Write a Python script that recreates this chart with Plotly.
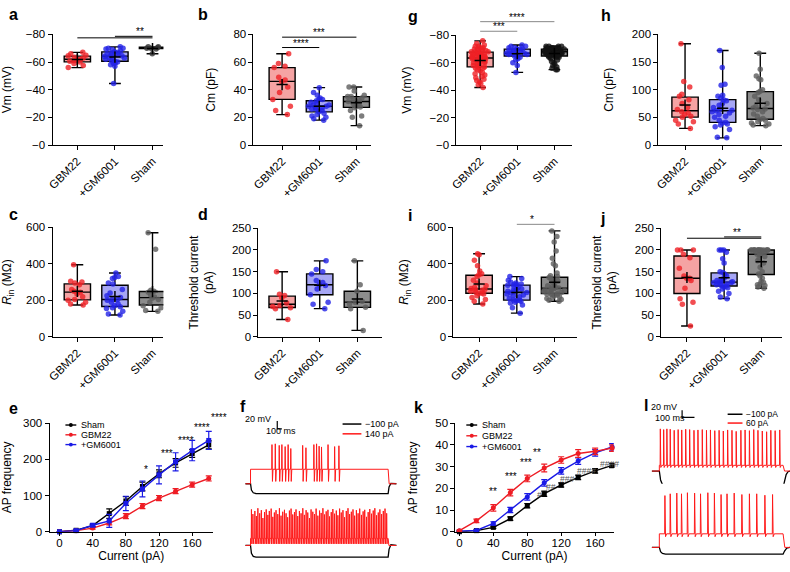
import numpy as np
import plotly.graph_objects as go

W, H = 790, 572
FONT = "Arial, 'Liberation Sans', Helvetica, sans-serif"

GROUPS = ["GBM22", "+GM6001", "Sham"]

# ---------------- box-plot data ----------------
a_gbm22 = [-67, -66, -65, -64.5, -63.5, -63, -62, -62, -61, -60.5, -60, -59, -57.5, -56]
a_gm6001 = [-71, -70, -70, -69.5, -69, -68, -67.5, -67, -66.5, -66, -65.5, -65, -64.5, -64,
            -63.5, -63, -62.5, -62, -61, -60.5, -60, -59.5, -59, -58, -57, -44.5]
a_sham = [-71, -71, -70.5, -70, -70, -69.5, -66]

b_gbm22 = [22, 25, 28, 33, 38, 42, 46, 47, 49, 56, 57, 59, 66]
b_gm6001 = [18, 19, 20, 21, 22, 23, 24, 25, 26, 26, 27, 27, 28, 28, 29, 29, 30, 31, 32, 33, 33,
            34, 36, 38, 41.5]
b_sham = [14, 20, 21, 25, 27, 27.5, 28, 29, 30, 31.5, 32, 33, 34, 35, 35, 36, 39, 42, 42]

g_gbm22 = [-76, -74, -73, -72, -72, -71, -71, -70, -70, -70, -69, -69, -69, -68, -68, -68, -67,
           -67, -67, -67, -66, -66, -66, -65, -65, -65, -65, -64, -64, -64, -64, -63, -63, -63,
           -62, -62, -62, -61, -61, -60, -60, -59, -59, -58, -58, -57, -57, -56, -56, -55, -54,
           -53, -52, -51, -50, -49, -48, -47, -46, -45, -44, -42]
g_gm6001 = [-73, -72, -72, -71, -71, -70, -70, -70, -69, -69, -68, -68, -67, -67, -67, -66, -66,
            -66, -65, -65, -64, -63, -62, -60, -58, -53]
g_sham = [-72, -72, -72, -72, -71, -71, -71, -71, -71, -71, -70, -70, -70, -70, -70, -70, -70,
          -69, -69, -69, -69, -69, -69, -69, -69, -68, -68, -68, -68, -68, -68, -68, -68, -67,
          -67, -67, -67, -67, -67, -67, -67, -66, -66, -66, -66, -66, -66, -65, -65, -65, -65,
          -65, -64, -64, -64, -63, -62, -61, -60, -59, -58, -57, -56, -55, -55]

h_gbm22 = [30, 38, 42, 45, 50, 52, 55, 58, 60, 64, 68, 75, 82, 88, 92, 105, 115, 183]
h_gm6001 = [13, 14, 28, 33, 36, 38, 40, 41, 45, 50, 52, 55, 58, 60, 62, 63, 65, 68, 72, 75, 80,
            82, 85, 88, 90, 108, 110, 140, 171]
h_sham = [35, 36, 38, 40, 42, 45, 46, 48, 52, 56, 60, 64, 65, 67, 70, 75, 82, 88, 95, 97, 100,
          118, 120, 125, 137, 166]

c_gbm22 = [175, 180, 190, 200, 205, 220, 235, 245, 250, 260, 285, 295, 300, 305, 395]
c_gm6001 = [120, 125, 140, 155, 160, 165, 170, 180, 190, 200, 205, 205, 215, 225, 240, 260, 290,
            295, 320, 325, 330, 350]
c_sham = [140, 145, 160, 170, 190, 205, 212, 218, 230, 245, 250, 255, 480, 570]

d_gbm22 = [40, 65, 67, 70, 72, 78, 90, 95, 98, 150]
d_gm6001 = [65, 75, 80, 97, 110, 118, 120, 125, 130, 145, 150, 155, 175]
d_sham = [15, 65, 68, 76, 80, 82, 105, 120, 175]

i_gbm22 = [180, 195, 205, 215, 225, 235, 238, 240, 245, 250, 255, 258, 260, 265, 270, 280, 295,
           310, 330, 340, 345, 360, 390, 420, 450, 455]
i_gm6001 = [130, 160, 175, 185, 190, 195, 198, 200, 202, 210, 220, 225, 230, 235, 240, 243, 247,
            250, 255, 258, 262, 270, 278, 283, 285, 288, 290, 295, 300, 310, 320, 330]
i_sham = [195, 200, 205, 210, 215, 220, 225, 230, 232, 235, 238, 240, 245, 248, 250, 255, 258,
          260, 263, 265, 268, 270, 275, 280, 290, 300, 305, 310, 320, 325, 330, 335, 350, 390,
          400, 430, 470, 520, 550, 580]

j_gbm22 = [25, 75, 80, 88, 112, 130, 135, 135, 140, 158, 182, 190, 200, 200, 200]
j_gm6001 = [88, 92, 100, 105, 110, 113, 115, 117, 118, 120, 122, 123, 125, 125, 125, 127, 128,
            130, 132, 135, 140, 145, 148, 150, 170, 180, 195, 200, 200, 200]
j_sham = [112, 115, 118, 120, 122, 125, 128, 135, 140, 145, 150, 160, 170, 175, 180, 185, 188,
          190, 190, 192, 195, 198, 200, 200, 200, 200, 200, 200, 200, 200, 200, 200, 200, 200,
          200, 200]

# ---------------- AP frequency data ----------------
CURRENT = [0, 20, 40, 60, 80, 100, 120, 140, 160, 180]
e_sham = [0, 4, 17, 50, 85, 125, 160, 190, 216, 240]
e_sham_err = [0, 2, 3, 13, 12, 12, 11, 12, 11, 11]
e_gbm22 = [0, 3, 10, 24, 43, 71, 93, 112, 130, 147]
e_gbm22_err = [0, 2, 3, 5, 7, 7, 7, 7, 7, 7]
e_gm6001 = [0, 3, 18, 30, 78, 118, 157, 193, 224, 252]
e_gm6001_err = [0, 2, 4, 18, 20, 22, 25, 25, 28, 25]

k_sham = [0, 0.5, 2, 6, 12, 17.5, 21.5, 25, 28, 30.5]
k_sham_err = [0, 0.3, 0.5, 0.8, 1, 1.2, 1, 1, 1, 1]
k_gbm22 = [0.5, 5, 11, 18, 24.5, 29.3, 33, 36, 37, 38.5]
k_gbm22_err = [0.3, 0.8, 1.5, 1.5, 1.5, 1.8, 1.5, 1.8, 1.5, 1.5]
k_gm6001 = [0.3, 0.6, 3.8, 10, 16, 22.5, 28, 32.5, 36.3, 39]
k_gm6001_err = [0.2, 0.3, 0.8, 1.2, 1.5, 1.5, 1.5, 1.5, 1.5, 1.5]

# ---------------- example traces (ms, mV) ----------------
f1_spike_t = [468, 540, 626, 684, 755, 820, 878, 1137, 1208, 1381, 1440, 1496, 1548, 1690, 1834, 1927]
f1_spike_v = [30, 32, 28, 30, 25, 30, 20, 28, 22, 30, 32, 26, 24, 30, 25, 27]
f1_black_t = [-110, 0, 20, 60, 120, 3000, 3020, 3060, 3180]
f1_black_v = [-70, -70, -86, -93, -95, -95, -78, -69, -70]

f2_spike_t = [20, 52, 95, 128, 160, 200, 236, 270, 305, 342, 378, 410, 450, 486, 520, 556, 595,
              630, 665, 702, 740, 775, 810, 848, 884, 920, 958, 992, 1030, 1066, 1102, 1140, 1175,
              1212, 1248, 1285, 1320, 1358, 1395, 1430, 1468, 1505, 1540, 1578, 1612, 1650, 1688,
              1722, 1760, 1795, 1832, 1870, 1905, 1942, 1978, 2015, 2050, 2088, 2125, 2160, 2198,
              2234, 2270, 2308, 2345, 2380, 2418, 2455, 2490, 2528, 2565, 2600, 2638, 2675, 2710,
              2748, 2785, 2820, 2858, 2895, 2932, 2968]
f2_spike_v = [22, 10, 18, 5, 25, 12, 20, 0, 15, 22, 8, 18, 24, 3, 14, 20, 10, 25, 6, 16, 21, 12,
              2, 19, 24, 9, 15, 22, 5, 18, 12, 25, 8, 20, 14, 0, 22, 16, 10, 24, 6, 19, 13, 25, 9,
              17, 21, 4, 15, 23, 11, 19, 7, 24, 14, 20, 2, 18, 25, 10, 16, 22, 6, 20, 12, 24, 8,
              17, 21, 3, 15, 23, 11, 19, 25, 7, 14, 22, 10, 18, 24, 12]
f2_black_t = [-110, 0, 20, 60, 120, 3000, 3020, 3060, 3180]
f2_black_v = [-70, -70, -90, -98, -100, -100, -80, -68, -70]

l1_spike_t = [8, 35, 61, 88, 120, 152, 181, 213, 245, 280, 312, 347, 381, 413, 448, 483, 517, 552,
              587, 621, 659, 693, 728, 763, 797, 832, 867, 901, 936, 973]
l1_spike_v = [48, 46, 48, 47, 44, 46, 45, 47, 46, 44, 45, 46, 44, 45, 43, 44, 42, 45, 44, 41, 44,
              45, 43, 46, 44, 42, 40, 44, 43, 45]
l1_black_t = [-60, 0, 10, 25, 45, 70, 1000, 1010, 1025, 1040, 1056]
l1_black_v = [-70, -70, -95, -108, -114, -116, -116, -100, -80, -72, -70]

l2_spike_t = [45, 88, 141, 179, 227, 285, 333, 392, 445, 499, 547, 605, 667, 728, 787, 853, 915]
l2_spike_v = [75, 80, 82, 80, 83, 82, 80, 83, 82, 78, 80, 82, 78, 80, 80, 76, 78]
l2_black_t = [-60, 0, 10, 25, 50, 1000, 1012, 1030, 1056]
l2_black_v = [-70, -70, -82, -87, -89, -89, -80, -72, -70]

# ---------------- styles ----------------
RED_FILL, BLUE_FILL, GRAY_FILL = "#f5a3a3", "#a6a6f5", "#8c8c8c"
RED_PT, BLUE_PT, GRAY_PT = "#ef2026", "#2222e6", "#5c5c5c"
TRACE_RED = "#ff1a1a"

fig = go.Figure()
layout = dict(width=W, height=H, margin=dict(l=0, r=0, t=0, b=0),
              paper_bgcolor="white", plot_bgcolor="white", showlegend=False,
              boxmode="overlay", font=dict(family=FONT, size=11.5, color="black"))
annotations, shapes = [], []
panels = {}

AX = dict(showline=True, linecolor="black", linewidth=1, ticks="outside", ticklen=4,
          tickwidth=1, tickcolor="black", showgrid=False, zeroline=False,
          tickfont=dict(size=11.5))


def add_panel(name, xpx, ypx, xr, yr):
    n = len(panels) + 1
    sfx = "" if n == 1 else str(n)
    p = dict(xpx=xpx, ypx=ypx, xr=xr, yr=yr, xa="x" + sfx, ya="y" + sfx,
             xkey="xaxis" + sfx, ykey="yaxis" + sfx)
    panels[name] = p
    layout[p["xkey"]] = dict(domain=[xpx[0] / W, xpx[1] / W], range=xr, anchor=p["ya"])
    layout[p["ykey"]] = dict(domain=[1 - ypx[1] / H, 1 - ypx[0] / H], range=yr, anchor=p["xa"])
    return p


def to_paper(p, x, y):
    xr, yr = p["xr"], p["yr"]
    fx = (x - xr[0]) / (xr[1] - xr[0])
    fy = (y - yr[0]) / (yr[1] - yr[0])
    px = p["xpx"][0] + fx * (p["xpx"][1] - p["xpx"][0])
    py = p["ypx"][1] - fy * (p["ypx"][1] - p["ypx"][0])
    return px / W, 1 - py / H


def px_paper(px, py):
    return px / W, 1 - py / H


def box_panel(p, datasets, pt_colors, fills, ytitle, ticks, ticktext=None):
    layout[p["xkey"]].update(AX, type="category", categoryorder="array",
                             categoryarray=GROUPS, tickangle=-45)
    yax = dict(AX, tickvals=ticks, title=dict(text=ytitle, font=dict(size=12)))
    if ticktext:
        yax["ticktext"] = ticktext
    layout[p["ykey"]].update(yax)
    for grp, vals, pc, fc in zip(GROUPS, datasets, pt_colors, fills):
        v = np.asarray(vals, dtype=float)
        q1, med, q3 = np.percentile(v, [25, 50, 75])
        fig.add_trace(go.Box(x=[grp], q1=[q1], median=[med], q3=[q3],
                             lowerfence=[v.min()], upperfence=[v.max()],
                             fillcolor=fc, line=dict(color="black", width=1.4),
                             whiskerwidth=0.45, width=0.7, boxpoints=False,
                             xaxis=p["xa"], yaxis=p["ya"], hoverinfo="skip"))
        fig.add_trace(go.Box(x=[grp] * len(v), y=v, boxpoints="all", jitter=0.85, pointpos=0,
                             fillcolor="rgba(0,0,0,0)",
                             line=dict(color="rgba(0,0,0,0)", width=0),
                             whiskerwidth=0, width=0.7,
                             marker=dict(color=pc, size=5.5, opacity=0.8),
                             xaxis=p["xa"], yaxis=p["ya"]))
        fig.add_trace(go.Scatter(x=[grp], y=[v.mean()], mode="markers",
                                 marker=dict(symbol="cross-thin", size=8,
                                             line=dict(color="black", width=1.5)),
                                 xaxis=p["xa"], yaxis=p["ya"]))


def sig(p, x0, x1, y, text, color="black"):
    X0, Y = to_paper(p, x0, y)
    X1, _ = to_paper(p, x1, y)
    shapes.append(dict(type="line", xref="paper", yref="paper", x0=X0, x1=X1, y0=Y, y1=Y,
                       line=dict(color=color, width=1)))
    if text:
        annotations.append(dict(xref="paper", yref="paper", x=(X0 + X1) / 2, y=Y, text=text,
                                showarrow=False, yanchor="bottom", yshift=-3,
                                font=dict(size=10, color="black")))


fills3 = [RED_FILL, BLUE_FILL, GRAY_FILL]
VM_TICKS = [0, -20, -40, -60, -80]
VM_TEXT = ["\u22120", "\u221220", "\u221240", "\u221260", "\u221280"]

# ---------- row 1 ----------
pa = add_panel("a", (45, 157), (29, 142), [-0.66, 2.29], [0, -80])
box_panel(pa, [a_gbm22, a_gm6001, a_sham], [RED_PT, BLUE_PT, "#333333"], fills3,
          "Vm (mV)", VM_TICKS, VM_TEXT)
sig(pa, 0, 2, -77.5, "")
sig(pa, 1, 2, -78.6, "**")

pb = add_panel("b", (248, 367), (29, 142), [-0.77, 2.4], [0, 80])
box_panel(pb, [b_gbm22, b_gm6001, b_sham], [RED_PT, BLUE_PT, GRAY_PT], fills3,
          "Cm (pF)", [0, 20, 40, 60, 80])
sig(pb, 0, 2, 78, "***")
sig(pb, 0, 1, 70.5, "****")

pg = add_panel("g", (453, 570), (30, 142), [-0.64, 2.48], [0, -80])
box_panel(pg, [g_gbm22, g_gm6001, g_sham], [RED_PT, BLUE_PT, "#111111"], fills3,
          "Vm (mV)", VM_TICKS, VM_TEXT)
sig(pg, 0, 2, -90, "****", "#888888")
sig(pg, 0, 1, -83, "***", "#888888")

ph = add_panel("h", (657, 782), (29, 142), [-0.71, 2.58], [0, 200])
box_panel(ph, [h_gbm22, h_gm6001, h_sham], [RED_PT, BLUE_PT, GRAY_PT], fills3,
          "Cm (pF)", [0, 50, 100, 150, 200])

# ---------- row 2 ----------
RIN = "<i>R</i><sub>in</sub> (M\u03a9)"
THR = "Threshold current<br>(pA)"
pc = add_panel("c", (45, 157), (226, 338), [-0.66, 2.29], [0, 600])
box_panel(pc, [c_gbm22, c_gm6001, c_sham], [RED_PT, BLUE_PT, GRAY_PT], fills3,
          RIN, [0, 200, 400, 600])

pd_ = add_panel("d", (253, 378), (227, 338), [-0.63, 2.66], [0, 250])
box_panel(pd_, [d_gbm22, d_gm6001, d_sham], [RED_PT, BLUE_PT, GRAY_PT], fills3,
          THR, [0, 50, 100, 150, 200, 250])

pi = add_panel("i", (450, 575), (226, 338), [-0.68, 2.6], [0, 600])
box_panel(pi, [i_gbm22, i_gm6001, i_sham], [RED_PT, BLUE_PT, GRAY_PT], fills3,
          RIN, [0, 200, 400, 600])
sig(pi, 1, 2, 616, "*", "#888888")

pj = add_panel("j", (660, 782), (227, 338), [-0.69, 2.56], [0, 250])
box_panel(pj, [j_gbm22, j_gm6001, j_sham], [RED_PT, BLUE_PT, GRAY_PT], fills3,
          THR, [0, 50, 100, 150, 200, 250])
sig(pj, 0, 2, 227, "")
sig(pj, 1, 2, 230, "**")


# ---------- row 3: AP frequency ----------
def freq_panel(p, series, ytitle, yticks):
    layout[p["xkey"]].update(AX, tickvals=[0, 40, 80, 120, 160], ticklen=3,
                             ticklabelstandoff=-3,
                             title=dict(text="Current (pA)", font=dict(size=12), standoff=0))
    layout[p["ykey"]].update(AX, tickvals=yticks, title=dict(text=ytitle, font=dict(size=12)))
    for y, err, col, sym in series:
        fig.add_trace(go.Scatter(x=CURRENT, y=y, mode="lines+markers",
                                 line=dict(color=col, width=1.4),
                                 marker=dict(color=col, size=5, symbol=sym),
                                 error_y=dict(type="data", array=err, color=col,
                                              thickness=1.2, width=3),
                                 cliponaxis=False, xaxis=p["xa"], yaxis=p["ya"]))


def legend_box(x_px, y_px, items, gap):
    for idx, (label, col) in enumerate(items):
        yy = y_px + idx * gap
        x0, y0 = px_paper(x_px, yy)
        x1, _ = px_paper(x_px + 11, yy)
        shapes.append(dict(type="line", xref="paper", yref="paper", x0=x0, x1=x1, y0=y0, y1=y0,
                           line=dict(color=col, width=1.4)))
        cx0, cy0 = px_paper(x_px + 3.5, yy - 2)
        cx1, cy1 = px_paper(x_px + 7.5, yy + 2)
        shapes.append(dict(type="circle", xref="paper", yref="paper", x0=cx0, x1=cx1,
                           y0=cy1, y1=cy0, fillcolor=col, line=dict(color=col, width=0)))
        tx, ty = px_paper(x_px + 14, yy)
        annotations.append(dict(xref="paper", yref="paper", x=tx, y=ty, text=label,
                                showarrow=False, xanchor="left", yanchor="middle",
                                font=dict(size=9)))


pe = add_panel("e", (42, 207), (426, 537), [-12, 185], [0, 300])
freq_panel(pe, [(e_sham, e_sham_err, "black", "square"),
                (e_gbm22, e_gbm22_err, "#ee1c24", "circle"),
                (e_gm6001, e_gm6001_err, "#1a1ae6", "square")],
           "AP frequency", [0, 100, 200, 300])
legend_box(58, 428, [("Sham", "black"), ("GBM22", "#ee1c24"), ("+GM6001", "#1a1ae6")], 10)
for cx, cy, txt in [(100, 150, "*"), (120, 196, "***"), (140, 230, "****"),
                    (160, 268, "****"), (180, 296, "****")]:
    X, Y = to_paper(pe, cx, cy)
    annotations.append(dict(xref="paper", yref="paper", x=X, y=Y, text=txt, showarrow=False,
                            font=dict(size=10)))

pk = add_panel("k", (452, 612), (426, 537), [-4.7, 182], [0, 50])
freq_panel(pk, [(k_sham, k_sham_err, "black", "square"),
                (k_gm6001, k_gm6001_err, "#1a1ae6", "circle"),
                (k_gbm22, k_gbm22_err, "#ee1c24", "circle")],
           "AP frequency", [0, 10, 20, 30, 40, 50])
legend_box(463, 428, [("Sham", "black"), ("GBM22", "#ee1c24"), ("+GM6001", "#1a1ae6")], 11)
for cx, cy, txt in [(40, 15, "**"), (61, 22, "***"), (79, 28.3, "***"), (98, 33, "**")]:
    X, Y = to_paper(pk, cx, cy)
    annotations.append(dict(xref="paper", yref="paper", x=X, y=Y, text=txt, showarrow=False,
                            font=dict(size=10)))
for cx, cy, txt in [(100, 13.5, "#"), (116, 17.5, "##"), (138, 21, "###"), (163, 24.5, "####"),
                    (190, 28, "####")]:
    X, Y = to_paper(pk, cx, cy)
    annotations.append(dict(xref="paper", yref="paper", x=X, y=Y, text=txt, showarrow=False,
                            font=dict(size=8.5, color="#555555")))


# ---------- example traces ----------
def step_trace(t_pre, t_on, t_off, t_post, hold, plateau, sp_t, sp_v, trough, rise, fall, rec):
    t = [t_pre, t_on, t_on]
    v = [hold, hold, plateau]
    for ts, pk_ in zip(sp_t, sp_v):
        t += [ts - rise, ts, ts + fall, ts + rec]
        v += [plateau, pk_, trough, plateau]
    t += [t_off, t_off + rec, t_post]
    v += [plateau, hold, hold]
    return t, v


def trace_axes(p):
    layout[p["xkey"]].update(visible=False)
    layout[p["ykey"]].update(visible=False)


pf1 = add_panel("f1", (238, 395), (418, 502), [-151, 3237], [-105, 105])
pf2 = add_panel("f2", (238, 395), (505, 568), [-151, 3237], [-112.5, 45])
pl1 = add_panel("l1", (648, 790), (405, 500), [-80, 1056], [-138.5, 121.8])
pl2 = add_panel("l2", (648, 790), (488, 566), [-80, 1056], [-105.6, 108.1])
for p in (pf1, pf2, pl1, pl2):
    trace_axes(p)

traces_spec = [
    (pf1, f1_black_t, f1_black_v, (-110, 0, 3000, 3180, -70, -33, f1_spike_t, f1_spike_v, -64, 5, 10, 22)),
    (pf2, f2_black_t, f2_black_v, (-110, 0, 3000, 3180, -70, -52, f2_spike_t, f2_spike_v, -66, 4, 8, 16)),
    (pl1, l1_black_t, l1_black_v, (-60, 0, 1000, 1056, -70, -54, l1_spike_t, l1_spike_v, -60, 1.5, 4, 12)),
    (pl2, l2_black_t, l2_black_v, (-60, 0, 1000, 1056, -70, -32, l2_spike_t, l2_spike_v, -40, 2, 5, 14)),
]
for p, bt, bv, spec in traces_spec:
    fig.add_trace(go.Scatter(x=bt, y=bv, mode="lines", line=dict(color="black", width=1.3),
                             xaxis=p["xa"], yaxis=p["ya"]))
    rt, rv = step_trace(*spec)
    fig.add_trace(go.Scatter(x=rt, y=rv, mode="lines", line=dict(color=TRACE_RED, width=1),
                             xaxis=p["xa"], yaxis=p["ya"]))

# scale bars (20 mV, 100 ms)
SCALE_MV, SCALE_MS = 20, 100
for p, t0, v0, lbl_mv, lbl_ms in [(pf1, 583, 70, (268, 429), (276, 441)),
                                   (pl1, 184, 80, (678, 417), (686, 428))]:
    fig.add_trace(go.Scatter(x=[t0, t0, t0 + SCALE_MS], y=[v0 + SCALE_MV, v0, v0], mode="lines",
                             line=dict(color="black", width=1.2), xaxis=p["xa"], yaxis=p["ya"]))
    X, Y = px_paper(*lbl_mv)
    annotations.append(dict(xref="paper", yref="paper", x=X, y=Y, text="20 mV", showarrow=False,
                            xanchor="right", font=dict(size=9)))
    X, Y = px_paper(*lbl_ms)
    annotations.append(dict(xref="paper", yref="paper", x=X, y=Y, text="100 ms", showarrow=False,
                            font=dict(size=9)))

for x_px, y_px, red_lbl, ln, gap, fs in [(338, 427, "140 pA", 19, 10, 9),
                                         (727, 417, "60 pA", 15, 9, 8.5)]:
    for idx, (lbl, col) in enumerate([("\u2212100 pA", "black"), (red_lbl, TRACE_RED)]):
        yy = y_px + idx * gap
        x0, y0 = px_paper(x_px, yy)
        x1, _ = px_paper(x_px + ln, yy)
        shapes.append(dict(type="line", xref="paper", yref="paper", x0=x0, x1=x1, y0=y0, y1=y0,
                           line=dict(color=col, width=1.5)))
        tx, ty = px_paper(x_px + ln + 2, yy)
        annotations.append(dict(xref="paper", yref="paper", x=tx, y=ty, text=lbl,
                                showarrow=False, xanchor="left", yanchor="middle",
                                font=dict(size=fs)))

# ---------- panel letters ----------
for letter, lx, ly in [("a", 6, 9), ("b", 197, 9), ("g", 409, 11), ("h", 604, 10),
                       ("c", 6, 213), ("d", 197, 213), ("i", 406, 214), ("j", 601, 217),
                       ("e", 6, 411), ("f", 237, 409), ("k", 415, 410), ("l", 645, 408)]:
    X, Y = px_paper(lx, ly)
    annotations.append(dict(xref="paper", yref="paper", x=X, y=Y, text="<b>%s</b>" % letter,
                            showarrow=False, xanchor="center", yanchor="middle",
                            font=dict(size=16)))

layout["annotations"] = annotations
layout["shapes"] = shapes
fig.update_layout(**layout)
fig.write_html("out.html", config={"displayModeBar": False},
               post_script="document.body.style.margin='0px';document.body.style.padding='0px';"
                           "document.body.style.overflow='hidden';")
